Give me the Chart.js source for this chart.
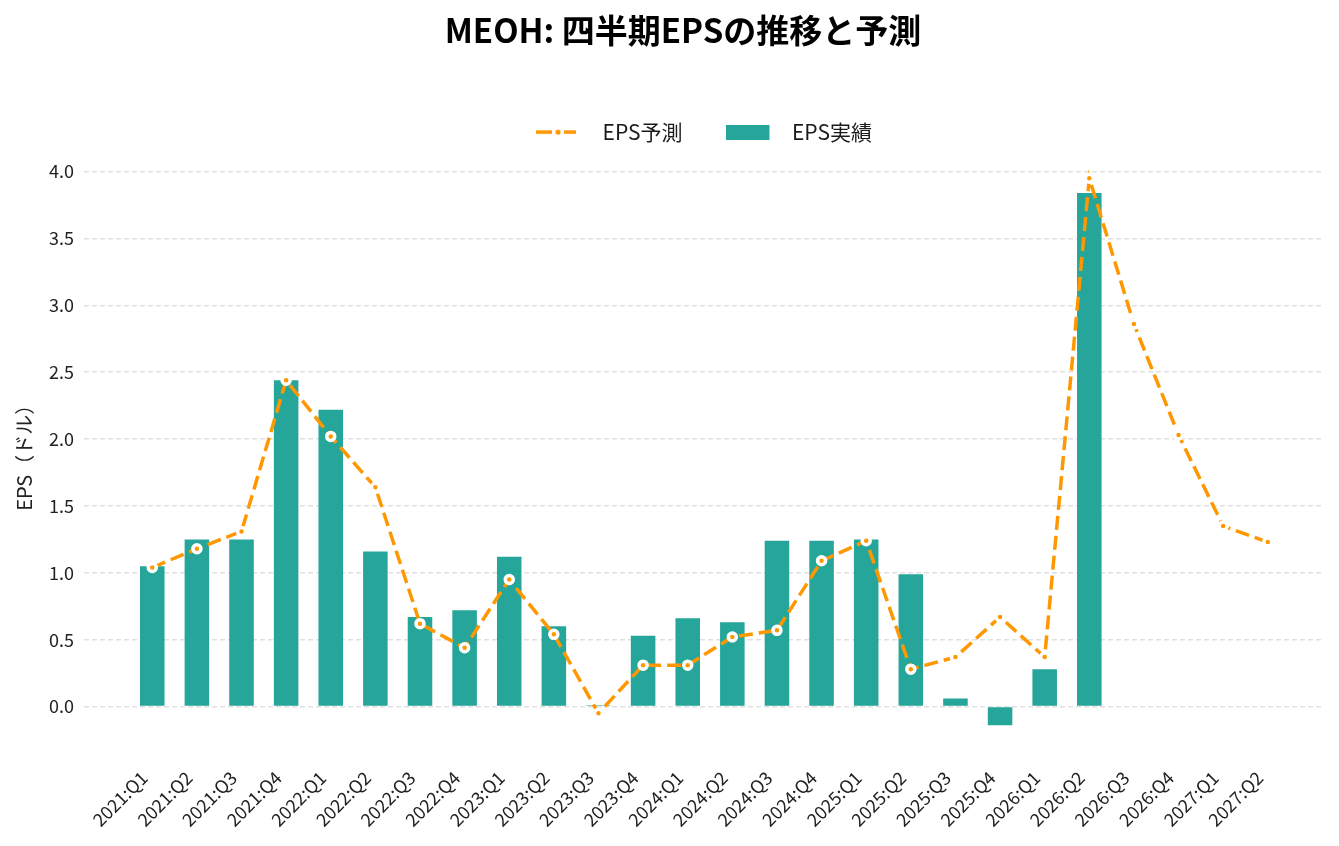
<!DOCTYPE html>
<html>
<head>
<meta charset="utf-8">
<script src="https://cdn.jsdelivr.net/npm/chart.js@4"></script>
<style>
  html, body { margin: 0; padding: 0; background: #fff; }
  #wrap { width: 1339px; height: 846px; }
</style>
</head>
<body>
<div id="wrap"><canvas id="epsChart"></canvas></div>
<script>
const quarters = ['2021:Q1','2021:Q2','2021:Q3','2021:Q4','2022:Q1','2022:Q2','2022:Q3','2022:Q4',
  '2023:Q1','2023:Q2','2023:Q3','2023:Q4','2024:Q1','2024:Q2','2024:Q3','2024:Q4',
  '2025:Q1','2025:Q2','2025:Q3','2025:Q4','2026:Q1','2026:Q2','2026:Q3','2026:Q4','2027:Q1','2027:Q2'];
// 実績 (up to 2026:Q2)
const actualEps = [1.05, 1.25, 1.25, 2.44, 2.22, 1.16, 0.67, 0.72, 1.12, 0.60, 0.01,
  0.53, 0.66, 0.63, 1.24, 1.24, 1.25, 0.99, 0.06, -0.14, 0.28, 3.84];
// 予測 (all quarters)
const forecastEps = [1.04, 1.18, 1.31, 2.44, 2.02, 1.64, 0.62, 0.44, 0.95, 0.54, -0.05,
  0.31, 0.31, 0.52, 0.57, 1.09, 1.24, 0.28, 0.37, 0.67, 0.37, 3.95, 2.86, 2.03, 1.35, 1.23];
const yTicks = [0, 0.5, 1.0, 1.5, 2.0, 2.5, 3.0, 3.5, 4.0];

const ORANGE = '#FF9800';
const TEAL = '#26A69A';
const FONT = "'Noto Sans CJK JP', 'Noto Sans', sans-serif";

// legend icons
function lineIcon() {
  const c = document.createElement('canvas');
  c.width = 56; c.height = 10;
  const g = c.getContext('2d');
  g.strokeStyle = ORANGE; g.lineWidth = 3.5;
  g.beginPath(); g.moveTo(0, 5); g.lineTo(16, 5); g.moveTo(28, 5); g.lineTo(40, 5); g.stroke();
  g.fillStyle = ORANGE;
  g.beginPath(); g.arc(22, 5, 2.6, 0, Math.PI * 2); g.fill();
  return c;
}
function barIcon() {
  const c = document.createElement('canvas');
  c.width = 56; c.height = 15;
  const g = c.getContext('2d');
  g.fillStyle = TEAL;
  g.fillRect(0, 0, 44, 15);
  return c;
}
const icons = [lineIcon(), barIcon()];

// nudge the title a little right, like the original
const titleShift = {
  id: 'titleShift',
  afterLayout(chart) {
    if (chart.titleBlock) {
      chart.titleBlock.left += 21;
      chart.titleBlock.right += 21;
    }
  }
};

new Chart(document.getElementById('epsChart'), {
  data: {
    datasets: [{
      type: 'line',
      label: 'EPS予測',
      data: forecastEps.map((v, i) => ({ x: i, y: v })),
      borderColor: ORANGE,
      backgroundColor: ORANGE,
      borderWidth: 3.5,
      borderDash: [14, 6],
      tension: 0,
      pointRadius: 4,
      pointBorderWidth: 3.5,
      pointBackgroundColor: ORANGE,
      pointBorderColor: '#ffffff',
      order: 0
    }, {
      type: 'bar',
      label: 'EPS実績',
      data: actualEps.map((v, i) => ({ x: i, y: v })),
      backgroundColor: TEAL,
      borderWidth: 0,
      categoryPercentage: 1,
      barPercentage: 0.55,
      order: 1
    }]
  },
  plugins: [titleShift],
  options: {
    responsive: true,
    maintainAspectRatio: false,
    animation: false,
    layout: { padding: { left: 0, right: 15, top: 0, bottom: 0 } },
    plugins: {
      tooltip: { enabled: false },
      title: {
        display: true,
        text: 'MEOH: 四半期EPSの推移と予測',
        color: '#000',
        font: { family: FONT, size: 33, weight: 'bold' },
        padding: { top: 11, bottom: 28 }
      },
      legend: {
        fullSize: false,
        labels: {
          color: '#1a1a1a',
          font: { family: FONT, size: 21 },
          usePointStyle: true,
          pointStyleWidth: 56,
          padding: 43,
          generateLabels(chart) {
            const items = Chart.defaults.plugins.legend.labels.generateLabels(chart);
            items.forEach(it => { it.pointStyle = icons[it.datasetIndex]; });
            return items;
          }
        }
      }
    },
    scales: {
      x: {
        type: 'linear',
        offset: false,
        min: -1.53,
        max: 26.26,
        grid: { display: false, drawTicks: false },
        border: { display: false },
        afterBuildTicks(scale) { scale.ticks = quarters.map((q, i) => ({ value: i })); },
        afterFit(scale) { scale.height = 93; },
        ticks: {
          autoSkip: false,
          minRotation: 45,
          maxRotation: 45,
          padding: 14,
          labelOffset: -8,
          color: '#222',
          font: { family: FONT, size: 18 },
          callback: v => quarters[v]
        }
      },
      y: {
        min: -0.347,
        max: 4.142,
        grid: { color: '#e0e0e0', lineWidth: 1.5, drawTicks: false },
        border: { display: false, dash: [5, 3] },
        afterBuildTicks(scale) { scale.ticks = yTicks.map(v => ({ value: v })); },
        afterFit(scale) { scale.width = 84; },
        ticks: {
          padding: 10,
          color: '#222',
          font: { family: FONT, size: 18 },
          callback: v => v.toFixed(1)
        },
        title: {
          display: true,
          text: 'EPS（ドル）',
          color: '#222',
          font: { family: FONT, size: 20 },
          padding: { top: 12, bottom: 0 }
        }
      }
    }
  }
});
</script>
</body>
</html>
